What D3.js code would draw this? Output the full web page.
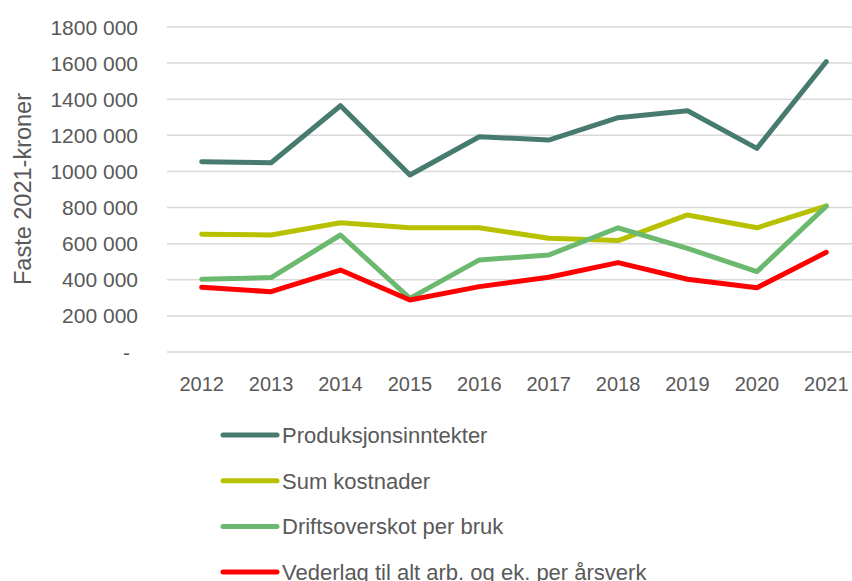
<!DOCTYPE html>
<html lang="nn">
<head>
    <meta charset="UTF-8">
    <script src="https://d3js.org/d3.v7.min.js"></script>
    <title>Faste 2021-kroner</title>
    <style>
        body { margin: 0; background: #fff; }
        text { fill: #595959; font-family: "Liberation Sans", Arial, sans-serif; }
        .year { font-family: "Liberation Sans Narrow", "Liberation Sans", Arial, sans-serif; }
    </style>
</head>
<body>
    <svg id="chart" width="852" height="581"></svg>
    <script>
        // data
        const years = ["2012", "2013", "2014", "2015", "2016", "2017", "2018", "2019", "2020", "2021"];
        const produksjonsinntekter = [1054000, 1048000, 1364000, 980000, 1192000, 1174000, 1298000, 1336000, 1128000, 1608000];
        const sumKostnader = [652000, 648000, 716000, 688000, 688000, 630000, 617000, 759000, 688000, 809000];
        const driftsoverskot = [403000, 412000, 648000, 297000, 510000, 537000, 688000, 574000, 445000, 808000];
        const vederlag = [358000, 334000, 454000, 288000, 362000, 414000, 495000, 403000, 356000, 552000];
        const seriesNames = ["Produksjonsinntekter", "Sum kostnader", "Driftsoverskot per bruk", "Vederlag til alt arb. og ek. per årsverk"];
        const tickValues = [0, 200000, 400000, 600000, 800000, 1000000, 1200000, 1400000, 1600000, 1800000];
        const tickLabels = ["-", "200 000", "400 000", "600 000", "800 000", "1000 000", "1200 000", "1400 000", "1600 000", "1800 000"];

        const colors = ["#477b6f", "#b8c100", "#6bb86f", "#ff0000"];
        const series = [produksjonsinntekter, sumKostnader, driftsoverskot, vederlag];

        const svg = d3.select("#chart");

        const x = d3.scalePoint()
            .domain(years)
            .range([167, 861])
            .padding(0.5);

        const y = d3.scaleLinear()
            .domain([0, 1800000])
            .range([352, 27]);

        // gridlines
        svg.append("g")
            .selectAll("line")
            .data(tickValues)
            .join("line")
            .attr("x1", 167)
            .attr("x2", 861)
            .attr("y1", d => y(d))
            .attr("y2", d => y(d))
            .attr("stroke", "#d9d9d9")
            .attr("stroke-width", 1.5);

        // y tick labels
        svg.append("g")
            .selectAll("text")
            .data(tickValues)
            .join("text")
            .attr("x", (d, i) => i === 0 ? 130 : 138)
            .attr("y", d => y(d) + 7.5)
            .attr("text-anchor", "end")
            .attr("font-size", 21)
            .text((d, i) => tickLabels[i]);

        // x labels
        svg.append("g")
            .selectAll("text")
            .data(years)
            .join("text")
            .attr("class", "year")
            .attr("x", d => x(d))
            .attr("y", 391)
            .attr("text-anchor", "middle")
            .attr("font-size", 20)
            .text(d => d);

        // y title
        svg.append("text")
            .attr("transform", "translate(31,189) rotate(-90)")
            .attr("text-anchor", "middle")
            .attr("font-size", 23.5)
            .text("Faste 2021-kroner");

        const line = d3.line()
            .x((d, i) => x(years[i]))
            .y(d => y(d));

        svg.append("g")
            .selectAll("path")
            .data(series)
            .join("path")
            .attr("d", d => line(d))
            .attr("fill", "none")
            .attr("stroke", (d, i) => colors[i])
            .attr("stroke-width", 5)
            .attr("stroke-linejoin", "round")
            .attr("stroke-linecap", "round");

        // legend
        const legend = svg.append("g")
            .selectAll("g")
            .data(seriesNames)
            .join("g")
            .attr("transform", (d, i) => `translate(0,${435 + i * 45.7})`);

        legend.append("line")
            .attr("x1", 223)
            .attr("x2", 277)
            .attr("stroke", (d, i) => colors[i])
            .attr("stroke-width", 5)
            .attr("stroke-linecap", "round");

        legend.append("text")
            .attr("x", 282)
            .attr("y", 8)
            .attr("font-size", 22)
            .text(d => d);
    </script>
</body>
</html>
